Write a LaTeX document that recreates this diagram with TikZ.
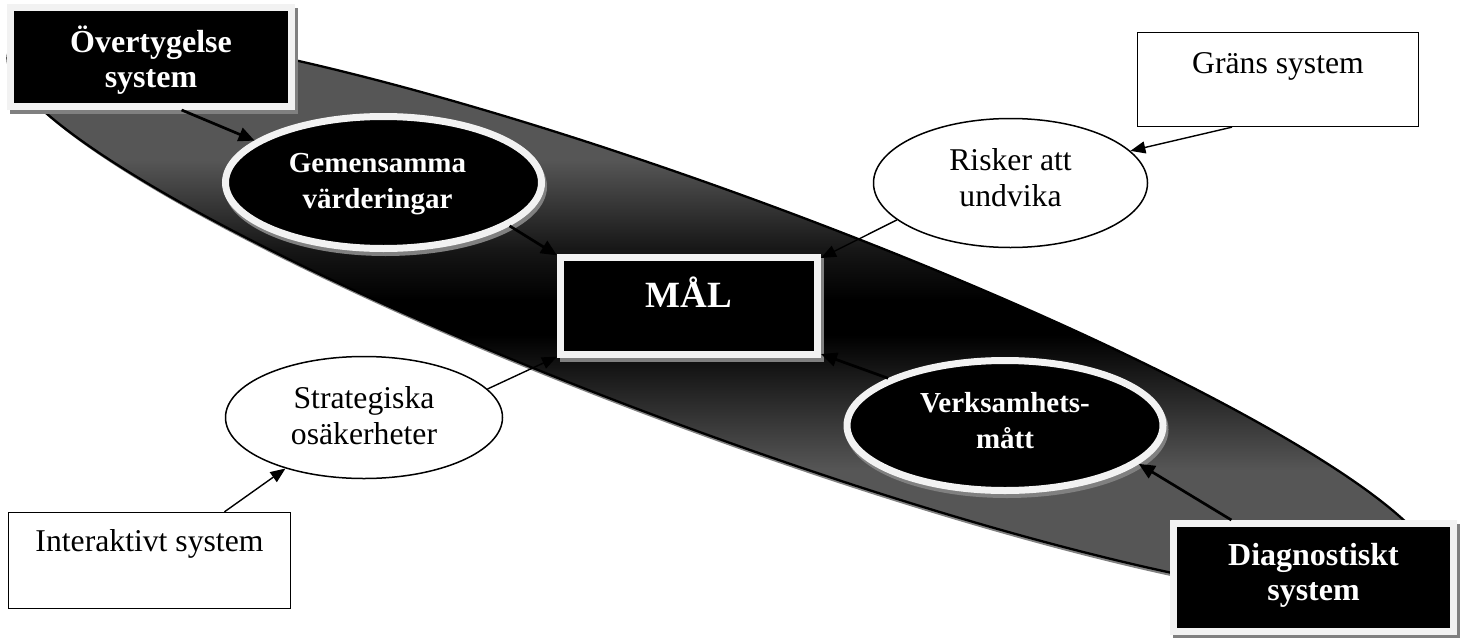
\documentclass[tikz,border=0pt]{standalone}
\usepackage{fontspec}
\setmainfont{Liberation Serif}
\usetikzlibrary{shapes.geometric,arrows.meta}
\definecolor{ring}{HTML}{F2F2F2}
\definecolor{shgray}{HTML}{808080}
\definecolor{gA}{HTML}{565656}
\definecolor{gB}{HTML}{161616}
\newcommand{\nodetext}[3][0pt]{\makebox[0pt][l]{\hspace*{#1}\makebox[0pt][c]{\smash{\raisebox{#2}{\begin{tabular}[t]{@{}c@{}}#3\end{tabular}}}}}}
\newcommand{\fReg}{\fontsize{31.7}{36}\selectfont}
\newcommand{\fBoldEll}{\fontsize{29}{36}\selectfont\bfseries}
\newcommand{\fBoldBox}{\fontsize{32}{35}\selectfont\bfseries}
\newcommand{\fMal}{\fontsize{37}{42}\selectfont\bfseries}
\tikzset{
  darkbox/.style={rectangle, fill=black, draw=ring, line width=7pt, inner sep=0pt, text=white,
    preaction={fill=shgray, draw=shgray, transform canvas={xshift=3pt,yshift=-4pt}}},
  darkell/.style={ellipse, fill=black, draw=ring, line width=7pt, inner sep=0pt, text=white,
    font=\fBoldEll, preaction={fill=shgray, draw=shgray, transform canvas={xshift=2pt,yshift=-4pt}}},
  whitebox/.style={rectangle, draw=black, line width=1.3pt, fill=white, inner sep=0pt, font=\fReg},
  whiteell/.style={ellipse, draw=black, line width=1.5pt, fill=white, inner sep=0pt, font=\fReg},
  bigarrow/.style={-{Triangle[length=16pt,width=14pt]}, line width=2.7pt},
  thinarrow/.style={-{Triangle[length=15pt,width=12pt]}, line width=1.4pt},
  bigshape/.style={rotate around={-20.2:(722,314)}}
}
\begin{document}
\begin{tikzpicture}[x=1pt,y=-1pt]
\useasboundingbox (0,0) rectangle (1466,637);
% big diagonal ellipse
\fill[shgray, rotate around={-20.2:(725,318)}] (725,318) ellipse [x radius=760, y radius=118.5];
\begin{scope}
  \clip[bigshape] (722,314) ellipse [x radius=760, y radius=118.5];
  \fill[gA] (-60,-10) rectangle (1530,700);
  \shade[top color=gA, bottom color=gB] (-60,160) rectangle (1530,250);
  \shade[top color=gB, bottom color=black] (-60,250) rectangle (1530,300);
  \fill[black] (-60,300) rectangle (1530,335);
  \shade[top color=black, bottom color=gA] (-60,335) rectangle (1530,470);
\end{scope}
\draw[bigshape, line width=2.3pt] (722,314) ellipse [x radius=760, y radius=118.5];

% nodes
\node[darkbox, minimum width=281pt, minimum height=99pt, font=\fBoldBox] (ovr) at (151,57)
  {\nodetext{5pt}{Övertygelse\\system}};
\node[darkbox, minimum width=280pt, minimum height=108pt, font=\fBoldBox] (diag) at (1313.5,577.5)
  {\nodetext{12.5pt}{Diagnostiskt\\system}};
\node[darkbox, minimum width=257pt, minimum height=97pt, font=\fMal] (mal) at (689,306)
  {\nodetext{-1pt}{MÅL}};
\node[darkell, minimum width=316pt, minimum height=132pt] (gem) at (383.5,182.5)
  {\nodetext[-6pt]{10.5pt}{Gemensamma\\värderingar}};
\node[darkell, minimum width=316pt, minimum height=130pt] (verk) at (1005,425.5)
  {\nodetext{13pt}{Verksamhets-\\mått}};
\node[whiteell, minimum width=274pt, minimum height=129pt] (risk) at (1010.5,183)
  {\nodetext{13pt}{Risker att\\undvika}};
\node[whiteell, minimum width=277pt, minimum height=122pt] (strat) at (364,417.5)
  {\nodetext{9.5pt}{Strategiska\\osäkerheter}};
\node[whitebox, minimum width=282pt, minimum height=96pt] (inter) at (149.5,560.5)
  {\nodetext{8.8pt}{Interaktivt system}};
\node[whitebox, minimum width=281pt, minimum height=94pt] (grans) at (1278,79.5)
  {\nodetext{6.2pt}{Gräns system}};

% connectors
\draw[bigarrow] (ovr.-60) -- (gem.162);
\draw[bigarrow] (gem.-19) -- (mal.159);
\draw[thinarrow] (risk.198) -- (mal.20);
\draw[thinarrow] (grans.226) -- (risk.15);
\draw[thinarrow] (strat.13) -- (mal.201);
\draw[thinarrow] (inter.33) -- (strat.213);
\draw[bigarrow] (verk.158) -- (mal.-20);
\draw[bigarrow] (diag.145) -- (verk.-16);
\end{tikzpicture}
\end{document}
